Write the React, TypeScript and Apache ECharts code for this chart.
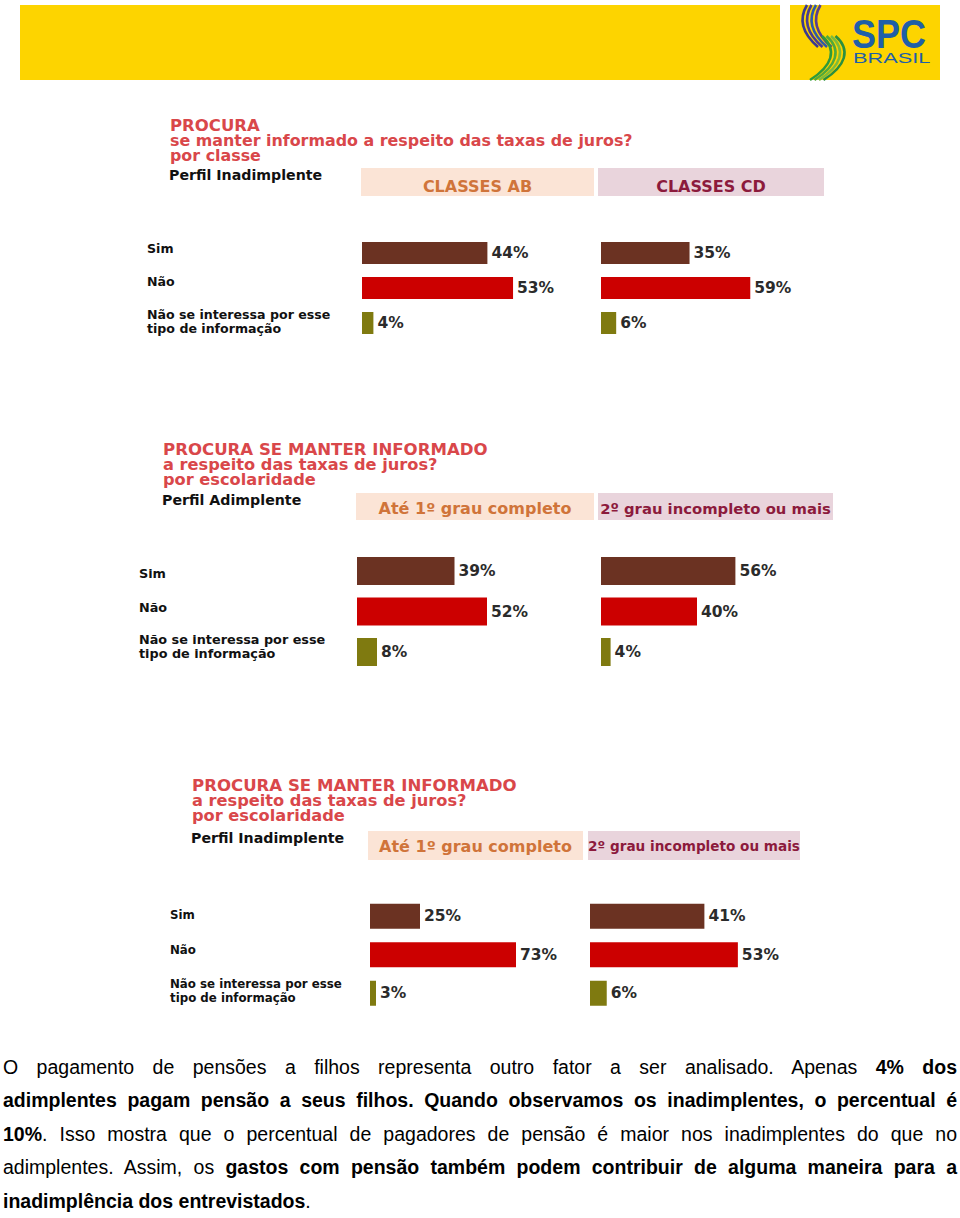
import React, { useEffect, useRef } from "react";
import * as echarts from "echarts";

// ---- Data ----
const rowLabels = ["Sim", "Não", "Não se interessa por esse\ntipo de informação"];
const classesAB = [44, 53, 4];
const classesCD = [35, 59, 6];
const adimpAte1 = [39, 52, 8];
const adimp2Grau = [56, 40, 4];
const inadAte1 = [25, 73, 3];
const inad2Grau = [41, 53, 6];
const barColors = ["#6b3222", "#cc0000", "#7f7a10"];

const panel1Title = ["PROCURA", "se manter informado a respeito das taxas de juros?", "por classe"];
const panel2Title = ["PROCURA SE MANTER INFORMADO", "a respeito das taxas de juros?", "por escolaridade"];
const panel3Title = ["PROCURA SE MANTER INFORMADO", "a respeito das taxas de juros?", "por escolaridade"];
const headers1 = ["CLASSES AB", "CLASSES CD"];
const headers2 = ["Até 1º grau completo", "2º grau incompleto ou mais"];

const FONT = "DejaVu Sans";
const TITLE_RED = "#d9474a";
const PEACH = "#fbe4d6";
const PINK = "#e9d4dc";
const ORANGE = "#d0743a";
const MAROON = "#8c1a3c";

// layout of each sub-chart (grid)
const grids = [
  { left: 362, width: 285, top: 235.5, height: 105, bar: 22, labelX: 147, labelSize: 12.6, shifts: [-5, -6.5, -1.5], data: classesAB },
  { left: 601, width: 253, top: 235.5, height: 105, bar: 22, labelX: 0, labelSize: 0, shifts: [], data: classesCD },
  { left: 357, width: 250, top: 550.75, height: 121.5, bar: 28, labelX: 139, labelSize: 12.8, shifts: [2, -4.5, -5.5], data: adimpAte1 },
  { left: 601, width: 240, top: 550.75, height: 121.5, bar: 28, labelX: 0, labelSize: 0, shifts: [], data: adimp2Grau },
  { left: 370, width: 200, top: 897, height: 115.5, bar: 25, labelX: 170, labelSize: 11.8, shifts: [-1, -5, -2.5], data: inadAte1 },
  { left: 590, width: 279, top: 897, height: 115.5, bar: 25, labelX: 0, labelSize: 0, shifts: [], data: inad2Grau },
];

function titleBlock(x: number, ys: number[], scales: number[], lines: string[], perfil: string, perfilX: number, perfilY: number) {
  const els: any[] = lines.map((t, i) => ({
    type: "text",
    x,
    y: ys[i],
    scaleX: scales[i],
    style: {
      text: t,
      fill: TITLE_RED,
      font: `bold 15px "${FONT}"`,
      lineHeight: 14,
      verticalAlign: "middle",
    },
  }));
  els.push({
    type: "text",
    x: perfilX,
    y: perfilY,
    style: { text: perfil, fill: "#111", font: `bold 14.2px "${FONT}"`, verticalAlign: "middle" },
  });
  return els;
}

function headerBox(x: number, y: number, w: number, h: number, fill: string, text: string, color: string, size: number, ty: number) {
  return [
    { type: "rect", shape: { x, y, width: w, height: h }, style: { fill } },
    {
      type: "text",
      x: x + w / 2,
      y: ty,
      style: { text, fill: color, font: `bold ${size}px "${FONT}"`, align: "center", verticalAlign: "middle" },
    },
  ];
}

function logo() {
  const els: any[] = [];
  const purple = ["#3b3a8f", "#4a3c92", "#2f5aa8", "#5a3f8e"];
  for (let i = 0; i < 4; i++) {
    els.push({
      type: "bezierCurve",
      shape: {
        x1: 807 + i * 4.5, y1: 5,
        cpx1: 798 + i * 4.5, cpy1: 20,
        cpx2: 803 + i * 4.5, cpy2: 34,
        x2: 818 + i * 4.5, y2: 47,
      },
      style: { stroke: purple[i], lineWidth: 2.6, fill: null },
    });
  }
  const green = ["#2f9a3a", "#53a93a", "#7dbb3c", "#2b8f3f"];
  for (let i = 0; i < 4; i++) {
    els.push({
      type: "bezierCurve",
      shape: {
        x1: 822 + i * 4.5, y1: 36,
        cpx1: 838 + i * 4.5, cpy1: 50,
        cpx2: 832 + i * 4.5, cpy2: 66,
        x2: 810 + i * 4.5, y2: 80,
      },
      style: { stroke: green[i], lineWidth: 2.6, fill: null },
    });
  }
  els.push({
    type: "text",
    x: 852,
    y: 34,
    scaleX: 0.9,
    style: { text: "SPC", fill: "#1f5fa8", font: 'bold 40px "Liberation Sans"', verticalAlign: "middle" },
  });
  els.push({
    type: "text",
    x: 853,
    y: 58,
    scaleX: 1.45,
    style: { text: "BRASIL", fill: "#1f5fa8", font: '15px "Liberation Sans"', verticalAlign: "middle" },
  });
  return els;
}

export default function App() {
  const ref = useRef<HTMLDivElement>(null);

  useEffect(() => {
    if (!ref.current) return;
    const chart = echarts.init(ref.current, null, { renderer: "svg" });

    const staticGraphics: any[] = [
      { type: "rect", shape: { x: 20, y: 5, width: 760, height: 75 }, style: { fill: "#fdd400" } },
      { type: "rect", shape: { x: 790, y: 5, width: 150, height: 75 }, style: { fill: "#fdd400" } },
      ...logo(),
      ...titleBlock(170, [126, 141, 156], [1.1, 1.06, 1.06], panel1Title, "Perfil Inadimplente", 169, 175),
      ...headerBox(361, 168, 233, 28, PEACH, headers1[0], ORANGE, 16, 186),
      ...headerBox(598, 168, 226, 28, PINK, headers1[1], MAROON, 16, 186),
      ...titleBlock(163, [450, 465, 480], [1.105, 1.08, 1.08], panel2Title, "Perfil Adimplente", 162, 500),
      ...headerBox(356, 493, 238, 27, PEACH, headers2[0], ORANGE, 16, 508),
      ...headerBox(598, 493, 235, 27, PINK, headers2[1], MAROON, 14.8, 508),
      ...titleBlock(192, [786, 801, 816], [1.105, 1.08, 1.08], panel3Title, "Perfil Inadimplente", 191, 838),
      ...headerBox(368, 831, 215, 29, PEACH, headers2[0], ORANGE, 16, 846),
      ...headerBox(588, 831, 212, 29, PINK, headers2[1], MAROON, 13.6, 846),
    ];

    const option: any = {
      animation: false,
      grid: grids.map((g) => ({
        left: g.left,
        width: g.width,
        top: g.top,
        height: g.height,
        containLabel: false,
        outerBoundsMode: "none",
      })),
      xAxis: grids.map((g, i) => ({ gridIndex: i, type: "value", min: 0, max: 100, show: false })),
      yAxis: grids.map((g, i) => ({
        gridIndex: i,
        type: "category",
        data: rowLabels,
        inverse: true,
        axisLine: { show: false },
        axisTick: { show: false },
        splitLine: { show: false },
        axisLabel: { show: false },
      })),
      series: grids.map((g, i) => ({
        type: "bar",
        xAxisIndex: i,
        yAxisIndex: i,
        data: g.data,
        barWidth: g.bar,
        itemStyle: { color: (p: any) => barColors[p.dataIndex] },
        label: {
          show: true,
          position: "right",
          distance: 4,
          formatter: "{c}%",
          color: "#2b2b2b",
          fontFamily: FONT,
          fontWeight: "bold",
          fontSize: 15.5,
        },
      })),
      graphic: staticGraphics,
    };
    chart.setOption(option);

    // Row labels placed at the category positions of each panel's y axis
    const rowTexts: any[] = [];
    grids.forEach((g, i) => {
      if (!g.labelX) return;
      rowLabels.forEach((lab, k) => {
        const y = chart.convertToPixel({ yAxisIndex: i } as any, lab) as unknown as number;
        rowTexts.push({
          type: "text",
          x: g.labelX,
          y: y + (g.shifts[k] || 0),
          style: {
            text: lab,
            fill: "#111",
            font: `bold ${g.labelSize}px "${FONT}"`,
            lineHeight: 14.5,
            verticalAlign: "middle",
          },
        });
      });
    });
    chart.setOption({ graphic: [...staticGraphics, ...rowTexts] });

    return () => chart.dispose();
  }, []);

  const lineStyle: React.CSSProperties = {
    textAlign: "justify",
    textAlignLast: "justify" as any,
    whiteSpace: "nowrap",
    height: 33.4,
  };

  return (
    <div style={{ position: "absolute", left: 0, top: 0, width: 960, height: 1218, background: "#fff" }}>
      <div ref={ref} style={{ position: "absolute", left: 0, top: 0, width: 960, height: 1218 }} />
      <div
        style={{
          position: "absolute",
          left: 3,
          top: 1051,
          width: 954,
          fontFamily: '"Liberation Sans", Arial, sans-serif',
          fontSize: 19.5,
          lineHeight: "33.4px",
          color: "#000",
        }}
      >
        <div style={lineStyle}>
          O pagamento de pensões a filhos representa outro fator a ser analisado. Apenas <b>4% dos</b>
        </div>
        <div style={lineStyle}>
          <b>adimplentes pagam pensão a seus filhos. Quando observamos os inadimplentes, o percentual é</b>
        </div>
        <div style={lineStyle}>
          <b>10%</b>. Isso mostra que o percentual de pagadores de pensão é maior nos inadimplentes do que no
        </div>
        <div style={lineStyle}>
          adimplentes. Assim, os <b>gastos com pensão também podem contribuir de alguma maneira para a</b>
        </div>
        <div style={{ height: 33.4, whiteSpace: "nowrap" }}>
          <b>inadimplência dos entrevistados</b>.
        </div>
      </div>
    </div>
  );
}
